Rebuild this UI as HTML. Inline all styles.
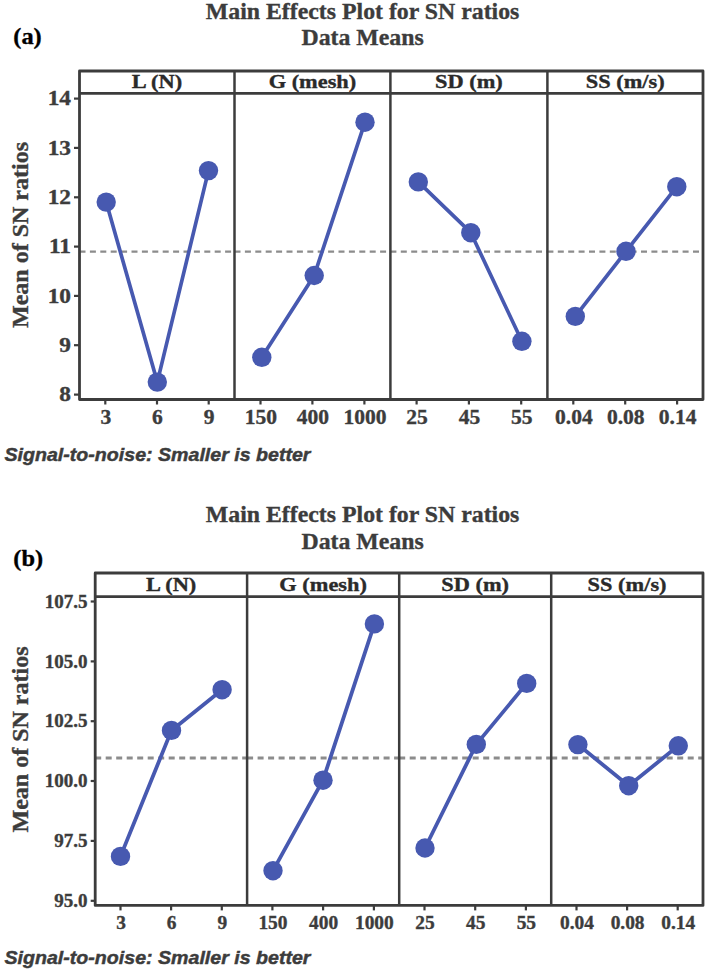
<!DOCTYPE html>
<html><head><meta charset="utf-8"><style>
html,body{margin:0;padding:0;background:#fff;width:708px;height:972px;overflow:hidden}
svg{display:block}
text{font-family:"Liberation Serif",serif;font-weight:bold;fill:#3c3c3c;stroke:#3c3c3c;stroke-width:0.35px}
</style></head><body>
<svg width="708" height="972" viewBox="0 0 708 972">
<rect width="708" height="972" fill="#fff"/>
<line x1="79.5" y1="251.7" x2="234.5" y2="251.7" stroke="#8c8c8c" stroke-width="2.2" stroke-dasharray="6 4.4"/>
<line x1="234.5" y1="251.7" x2="390.4" y2="251.7" stroke="#8c8c8c" stroke-width="2.2" stroke-dasharray="6 4.4"/>
<line x1="390.4" y1="251.7" x2="547.4" y2="251.7" stroke="#8c8c8c" stroke-width="2.2" stroke-dasharray="6 4.4"/>
<line x1="547.4" y1="251.7" x2="703.0" y2="251.7" stroke="#8c8c8c" stroke-width="2.2" stroke-dasharray="6 4.4"/>
<rect x="79.5" y="71.0" width="623.5" height="328.5" fill="none" stroke="#3c3c3c" stroke-width="2.8" stroke-linejoin="round"/>
<line x1="79.5" y1="93.4" x2="703.0" y2="93.4" stroke="#3c3c3c" stroke-width="2.8"/>
<line x1="234.5" y1="71.0" x2="234.5" y2="399.5" stroke="#3c3c3c" stroke-width="2.5"/>
<line x1="390.4" y1="71.0" x2="390.4" y2="399.5" stroke="#3c3c3c" stroke-width="2.5"/>
<line x1="547.4" y1="71.0" x2="547.4" y2="399.5" stroke="#3c3c3c" stroke-width="2.5"/>
<line x1="74.0" y1="98.6" x2="79.5" y2="98.6" stroke="#3c3c3c" stroke-width="2.2"/>
<text transform="translate(71.00,105.40) scale(1.15,1)" text-anchor="end" font-size="20.3">14</text>
<line x1="74.0" y1="147.9" x2="79.5" y2="147.9" stroke="#3c3c3c" stroke-width="2.2"/>
<text transform="translate(71.00,154.73) scale(1.15,1)" text-anchor="end" font-size="20.3">13</text>
<line x1="74.0" y1="197.3" x2="79.5" y2="197.3" stroke="#3c3c3c" stroke-width="2.2"/>
<text transform="translate(71.00,204.06) scale(1.15,1)" text-anchor="end" font-size="20.3">12</text>
<line x1="74.0" y1="246.6" x2="79.5" y2="246.6" stroke="#3c3c3c" stroke-width="2.2"/>
<text transform="translate(71.00,253.39) scale(1.15,1)" text-anchor="end" font-size="20.3">11</text>
<line x1="74.0" y1="295.9" x2="79.5" y2="295.9" stroke="#3c3c3c" stroke-width="2.2"/>
<text transform="translate(71.00,302.72) scale(1.15,1)" text-anchor="end" font-size="20.3">10</text>
<line x1="74.0" y1="345.2" x2="79.5" y2="345.2" stroke="#3c3c3c" stroke-width="2.2"/>
<text transform="translate(71.00,352.05) scale(1.15,1)" text-anchor="end" font-size="20.3">9</text>
<line x1="74.0" y1="394.6" x2="79.5" y2="394.6" stroke="#3c3c3c" stroke-width="2.2"/>
<text transform="translate(71.00,401.38) scale(1.15,1)" text-anchor="end" font-size="20.3">8</text>
<text transform="translate(157.00,87.80) scale(1.16,1)" text-anchor="middle" font-size="19.3" style="fill:#2a2a2a;stroke:#2a2a2a">L (N)</text>
<text transform="translate(312.45,87.80) scale(1.16,1)" text-anchor="middle" font-size="19.3" style="fill:#2a2a2a;stroke:#2a2a2a">G (mesh)</text>
<text transform="translate(468.90,87.80) scale(1.16,1)" text-anchor="middle" font-size="19.3" style="fill:#2a2a2a;stroke:#2a2a2a">SD (m)</text>
<text transform="translate(625.20,87.80) scale(1.16,1)" text-anchor="middle" font-size="19.3" style="fill:#2a2a2a;stroke:#2a2a2a">SS (m/s)</text>
<line x1="105.3" y1="399.5" x2="105.3" y2="404.5" stroke="#3c3c3c" stroke-width="2.2"/>
<text transform="translate(105.83,423.70) scale(1.05,1)" text-anchor="middle" font-size="20.5">3</text>
<line x1="157.0" y1="399.5" x2="157.0" y2="404.5" stroke="#3c3c3c" stroke-width="2.2"/>
<text transform="translate(157.50,423.70) scale(1.05,1)" text-anchor="middle" font-size="20.5">6</text>
<line x1="208.7" y1="399.5" x2="208.7" y2="404.5" stroke="#3c3c3c" stroke-width="2.2"/>
<text transform="translate(209.17,423.70) scale(1.05,1)" text-anchor="middle" font-size="20.5">9</text>
<polyline points="106.2,202.1 157.3,382.1 208.5,170.6" fill="none" stroke="#4759b0" stroke-width="3.7" stroke-linejoin="round"/>
<circle cx="106.2" cy="202.1" r="9.7" fill="#4759b0"/>
<circle cx="157.3" cy="382.1" r="9.7" fill="#4759b0"/>
<circle cx="208.5" cy="170.6" r="9.7" fill="#4759b0"/>
<line x1="260.5" y1="399.5" x2="260.5" y2="404.5" stroke="#3c3c3c" stroke-width="2.2"/>
<text transform="translate(260.98,423.70) scale(1.05,1)" text-anchor="middle" font-size="20.5">150</text>
<line x1="312.4" y1="399.5" x2="312.4" y2="404.5" stroke="#3c3c3c" stroke-width="2.2"/>
<text transform="translate(312.95,423.70) scale(1.05,1)" text-anchor="middle" font-size="20.5">400</text>
<line x1="364.4" y1="399.5" x2="364.4" y2="404.5" stroke="#3c3c3c" stroke-width="2.2"/>
<text transform="translate(364.92,423.70) scale(1.05,1)" text-anchor="middle" font-size="20.5">1000</text>
<polyline points="261.8,357.3 314.2,275.5 365.0,122.2" fill="none" stroke="#4759b0" stroke-width="3.7" stroke-linejoin="round"/>
<circle cx="261.8" cy="357.3" r="9.7" fill="#4759b0"/>
<circle cx="314.2" cy="275.5" r="9.7" fill="#4759b0"/>
<circle cx="365.0" cy="122.2" r="9.7" fill="#4759b0"/>
<line x1="416.6" y1="399.5" x2="416.6" y2="404.5" stroke="#3c3c3c" stroke-width="2.2"/>
<text transform="translate(417.07,423.70) scale(1.05,1)" text-anchor="middle" font-size="20.5">25</text>
<line x1="468.9" y1="399.5" x2="468.9" y2="404.5" stroke="#3c3c3c" stroke-width="2.2"/>
<text transform="translate(469.40,423.70) scale(1.05,1)" text-anchor="middle" font-size="20.5">45</text>
<line x1="521.2" y1="399.5" x2="521.2" y2="404.5" stroke="#3c3c3c" stroke-width="2.2"/>
<text transform="translate(521.73,423.70) scale(1.05,1)" text-anchor="middle" font-size="20.5">55</text>
<polyline points="418.3,181.9 470.8,232.7 521.9,341.3" fill="none" stroke="#4759b0" stroke-width="3.7" stroke-linejoin="round"/>
<circle cx="418.3" cy="181.9" r="9.7" fill="#4759b0"/>
<circle cx="470.8" cy="232.7" r="9.7" fill="#4759b0"/>
<circle cx="521.9" cy="341.3" r="9.7" fill="#4759b0"/>
<line x1="573.3" y1="399.5" x2="573.3" y2="404.5" stroke="#3c3c3c" stroke-width="2.2"/>
<text transform="translate(573.83,423.70) scale(1.05,1)" text-anchor="middle" font-size="20.5">0.04</text>
<line x1="625.2" y1="399.5" x2="625.2" y2="404.5" stroke="#3c3c3c" stroke-width="2.2"/>
<text transform="translate(625.70,423.70) scale(1.05,1)" text-anchor="middle" font-size="20.5">0.08</text>
<line x1="677.1" y1="399.5" x2="677.1" y2="404.5" stroke="#3c3c3c" stroke-width="2.2"/>
<text transform="translate(677.57,423.70) scale(1.05,1)" text-anchor="middle" font-size="20.5">0.14</text>
<polyline points="575.3,316.4 626.0,251.3 676.8,186.7" fill="none" stroke="#4759b0" stroke-width="3.7" stroke-linejoin="round"/>
<circle cx="575.3" cy="316.4" r="9.7" fill="#4759b0"/>
<circle cx="626.0" cy="251.3" r="9.7" fill="#4759b0"/>
<circle cx="676.8" cy="186.7" r="9.7" fill="#4759b0"/>
<text transform="translate(27.6,235) rotate(-90)" text-anchor="middle" font-size="24">Mean of SN ratios</text>
<text x="362.6" y="19.3" text-anchor="middle" font-size="23.8">Main Effects Plot for SN ratios</text>
<text x="362.6" y="45.2" text-anchor="middle" font-size="23.8">Data Means</text>
<text transform="translate(13.30,43.80) scale(1.06,1)" text-anchor="start" font-size="23" style="fill:#000;stroke:#000">(a)</text>
<text x="4.5" y="461.0" style="font-family:Liberation Sans,sans-serif;font-style:italic;stroke:#3c3c3c;stroke-width:0.45px" font-size="18.5" textLength="306" lengthAdjust="spacingAndGlyphs" fill="#3c3c3c">Signal-to-noise: Smaller is better</text>
<line x1="95.2" y1="757.9" x2="247.1" y2="757.9" stroke="#8c8c8c" stroke-width="3.0" stroke-dasharray="6 4.5"/>
<line x1="247.1" y1="757.9" x2="399.2" y2="757.9" stroke="#8c8c8c" stroke-width="3.0" stroke-dasharray="6 4.5"/>
<line x1="399.2" y1="757.9" x2="551.2" y2="757.9" stroke="#8c8c8c" stroke-width="3.0" stroke-dasharray="6 4.5"/>
<line x1="551.2" y1="757.9" x2="703.0" y2="757.9" stroke="#8c8c8c" stroke-width="3.0" stroke-dasharray="6 4.5"/>
<rect x="95.2" y="573.0" width="607.8" height="332.4" fill="none" stroke="#3c3c3c" stroke-width="2.8" stroke-linejoin="round"/>
<line x1="95.2" y1="596.7" x2="703.0" y2="596.7" stroke="#3c3c3c" stroke-width="2.8"/>
<line x1="247.1" y1="573.0" x2="247.1" y2="905.4" stroke="#3c3c3c" stroke-width="2.5"/>
<line x1="399.2" y1="573.0" x2="399.2" y2="905.4" stroke="#3c3c3c" stroke-width="2.5"/>
<line x1="551.2" y1="573.0" x2="551.2" y2="905.4" stroke="#3c3c3c" stroke-width="2.5"/>
<line x1="90.7" y1="601.5" x2="95.2" y2="601.5" stroke="#3c3c3c" stroke-width="2.2"/>
<text transform="translate(87.50,607.70) scale(1.03,1)" text-anchor="end" font-size="18.5">107.5</text>
<line x1="90.7" y1="661.4" x2="95.2" y2="661.4" stroke="#3c3c3c" stroke-width="2.2"/>
<text transform="translate(87.50,667.55) scale(1.03,1)" text-anchor="end" font-size="18.5">105.0</text>
<line x1="90.7" y1="721.2" x2="95.2" y2="721.2" stroke="#3c3c3c" stroke-width="2.2"/>
<text transform="translate(87.50,727.40) scale(1.03,1)" text-anchor="end" font-size="18.5">102.5</text>
<line x1="90.7" y1="781.0" x2="95.2" y2="781.0" stroke="#3c3c3c" stroke-width="2.2"/>
<text transform="translate(87.50,787.25) scale(1.03,1)" text-anchor="end" font-size="18.5">100.0</text>
<line x1="90.7" y1="840.9" x2="95.2" y2="840.9" stroke="#3c3c3c" stroke-width="2.2"/>
<text transform="translate(87.50,847.10) scale(1.03,1)" text-anchor="end" font-size="18.5">97.5</text>
<line x1="90.7" y1="900.8" x2="95.2" y2="900.8" stroke="#3c3c3c" stroke-width="2.2"/>
<text transform="translate(87.50,906.95) scale(1.03,1)" text-anchor="end" font-size="18.5">95.0</text>
<text transform="translate(171.15,590.90) scale(1.16,1)" text-anchor="middle" font-size="19.3" style="fill:#2a2a2a;stroke:#2a2a2a">L (N)</text>
<text transform="translate(323.15,590.90) scale(1.16,1)" text-anchor="middle" font-size="19.3" style="fill:#2a2a2a;stroke:#2a2a2a">G (mesh)</text>
<text transform="translate(475.20,590.90) scale(1.16,1)" text-anchor="middle" font-size="19.3" style="fill:#2a2a2a;stroke:#2a2a2a">SD (m)</text>
<text transform="translate(627.10,590.90) scale(1.16,1)" text-anchor="middle" font-size="19.3" style="fill:#2a2a2a;stroke:#2a2a2a">SS (m/s)</text>
<line x1="120.5" y1="905.4" x2="120.5" y2="910.4" stroke="#3c3c3c" stroke-width="2.2"/>
<text transform="translate(121.02,928.80) scale(1.06,1)" text-anchor="middle" font-size="18.3">3</text>
<line x1="171.1" y1="905.4" x2="171.1" y2="910.4" stroke="#3c3c3c" stroke-width="2.2"/>
<text transform="translate(171.65,928.80) scale(1.06,1)" text-anchor="middle" font-size="18.3">6</text>
<line x1="221.8" y1="905.4" x2="221.8" y2="910.4" stroke="#3c3c3c" stroke-width="2.2"/>
<text transform="translate(222.28,928.80) scale(1.06,1)" text-anchor="middle" font-size="18.3">9</text>
<polyline points="120.5,856.4 171.5,730.4 222.1,689.7" fill="none" stroke="#4759b0" stroke-width="3.8" stroke-linejoin="round"/>
<circle cx="120.5" cy="856.4" r="9.7" fill="#4759b0"/>
<circle cx="171.5" cy="730.4" r="9.7" fill="#4759b0"/>
<circle cx="222.1" cy="689.7" r="9.7" fill="#4759b0"/>
<line x1="272.4" y1="905.4" x2="272.4" y2="910.4" stroke="#3c3c3c" stroke-width="2.2"/>
<text transform="translate(272.95,928.80) scale(1.06,1)" text-anchor="middle" font-size="18.3">150</text>
<line x1="323.1" y1="905.4" x2="323.1" y2="910.4" stroke="#3c3c3c" stroke-width="2.2"/>
<text transform="translate(323.65,928.80) scale(1.06,1)" text-anchor="middle" font-size="18.3">400</text>
<line x1="373.9" y1="905.4" x2="373.9" y2="910.4" stroke="#3c3c3c" stroke-width="2.2"/>
<text transform="translate(374.35,928.80) scale(1.06,1)" text-anchor="middle" font-size="18.3">1000</text>
<polyline points="273.0,870.7 323.0,780.2 374.4,623.9" fill="none" stroke="#4759b0" stroke-width="3.8" stroke-linejoin="round"/>
<circle cx="273.0" cy="870.7" r="9.7" fill="#4759b0"/>
<circle cx="323.0" cy="780.2" r="9.7" fill="#4759b0"/>
<circle cx="374.4" cy="623.9" r="9.7" fill="#4759b0"/>
<line x1="424.5" y1="905.4" x2="424.5" y2="910.4" stroke="#3c3c3c" stroke-width="2.2"/>
<text transform="translate(425.03,928.80) scale(1.06,1)" text-anchor="middle" font-size="18.3">25</text>
<line x1="475.2" y1="905.4" x2="475.2" y2="910.4" stroke="#3c3c3c" stroke-width="2.2"/>
<text transform="translate(475.70,928.80) scale(1.06,1)" text-anchor="middle" font-size="18.3">45</text>
<line x1="525.9" y1="905.4" x2="525.9" y2="910.4" stroke="#3c3c3c" stroke-width="2.2"/>
<text transform="translate(526.37,928.80) scale(1.06,1)" text-anchor="middle" font-size="18.3">55</text>
<polyline points="425.0,848.0 476.3,744.4 526.7,683.4" fill="none" stroke="#4759b0" stroke-width="3.8" stroke-linejoin="round"/>
<circle cx="425.0" cy="848.0" r="9.7" fill="#4759b0"/>
<circle cx="476.3" cy="744.4" r="9.7" fill="#4759b0"/>
<circle cx="526.7" cy="683.4" r="9.7" fill="#4759b0"/>
<line x1="576.5" y1="905.4" x2="576.5" y2="910.4" stroke="#3c3c3c" stroke-width="2.2"/>
<text transform="translate(577.00,928.80) scale(1.06,1)" text-anchor="middle" font-size="18.3">0.04</text>
<line x1="627.1" y1="905.4" x2="627.1" y2="910.4" stroke="#3c3c3c" stroke-width="2.2"/>
<text transform="translate(627.60,928.80) scale(1.06,1)" text-anchor="middle" font-size="18.3">0.08</text>
<line x1="677.7" y1="905.4" x2="677.7" y2="910.4" stroke="#3c3c3c" stroke-width="2.2"/>
<text transform="translate(678.20,928.80) scale(1.06,1)" text-anchor="middle" font-size="18.3">0.14</text>
<polyline points="577.9,744.6 628.7,785.7 678.3,745.8" fill="none" stroke="#4759b0" stroke-width="3.8" stroke-linejoin="round"/>
<circle cx="577.9" cy="744.6" r="9.7" fill="#4759b0"/>
<circle cx="628.7" cy="785.7" r="9.7" fill="#4759b0"/>
<circle cx="678.3" cy="745.8" r="9.7" fill="#4759b0"/>
<text transform="translate(27.6,739.5) rotate(-90)" text-anchor="middle" font-size="24">Mean of SN ratios</text>
<text x="362.6" y="522.4" text-anchor="middle" font-size="23.8">Main Effects Plot for SN ratios</text>
<text x="362.6" y="548.8" text-anchor="middle" font-size="23.8">Data Means</text>
<text transform="translate(13.30,565.80) scale(1.06,1)" text-anchor="start" font-size="23" style="fill:#000;stroke:#000">(b)</text>
<text x="4.5" y="963.8" style="font-family:Liberation Sans,sans-serif;font-style:italic;stroke:#3c3c3c;stroke-width:0.45px" font-size="18.5" textLength="306" lengthAdjust="spacingAndGlyphs" fill="#3c3c3c">Signal-to-noise: Smaller is better</text>
</svg>
</body></html>
